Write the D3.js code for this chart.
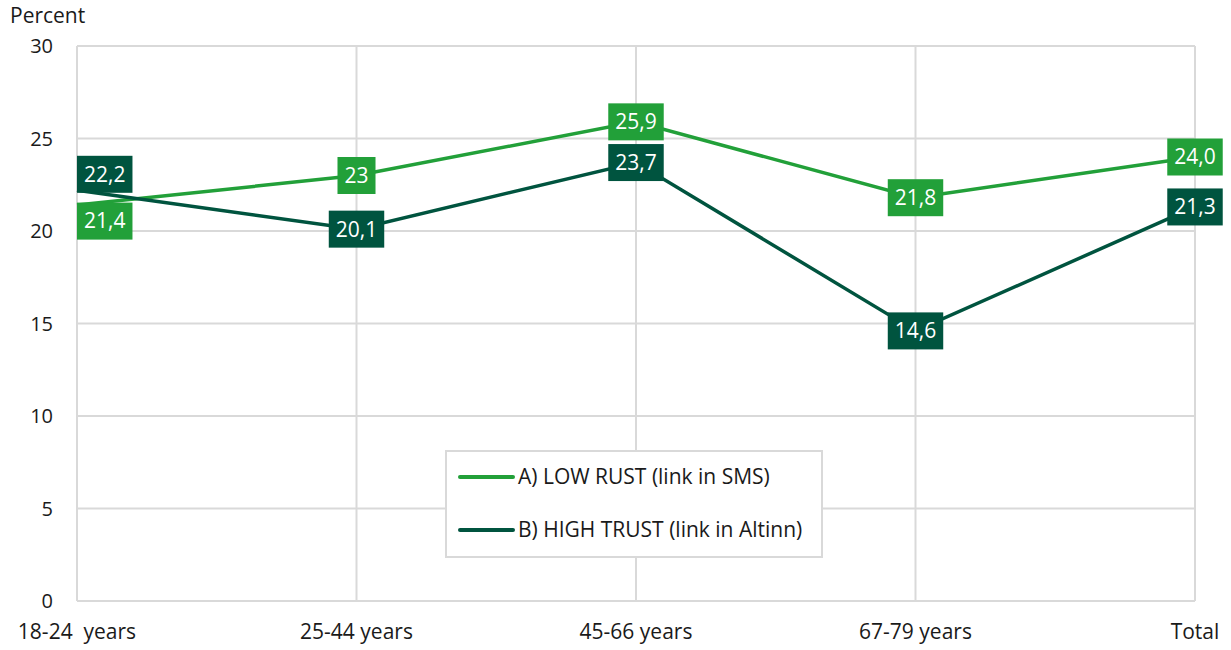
<!DOCTYPE html>
<html>
<head>
<meta charset="utf-8">
<script src="https://cdnjs.cloudflare.com/ajax/libs/d3/7.8.5/d3.min.js"></script>
<style>
	body{ margin:0; background:#fff; }
	svg text{ font-family:"Open Sans", sans-serif; fill:#1a1a1a; }
</style>
</head>
<body>
<svg id="chart" width="1231" height="650"></svg>
<script>
	// data
	var categories = ["18-24  years", "25-44 years", "45-66 years", "67-79 years", "Total"];
	var lowTrust = [21.4, 23, 25.9, 21.8, 24.0];
	var lowTrustLabels = ["21,4", "23", "25,9", "21,8", "24,0"];
	var highTrust = [22.2, 20.1, 23.7, 14.6, 21.3];
	var highTrustLabels = ["22,2", "20,1", "23,7", "14,6", "21,3"];
	var yTicks = [0, 5, 10, 15, 20, 25, 30];
	var seriesNames = ["A) LOW RUST (link in SMS)", "B) HIGH TRUST (link in Altinn)"];

	var GREEN = "#22a039", DARK = "#00543f", GRID = "#d9d9d9";
	var plotLeft = 77, plotRight = 1195, plotTop = 46, plotBottom = 601;

	var svg = d3.select("#chart");
	var x = d3.scalePoint().domain(categories).range([plotLeft, plotRight]).padding(0);
	var y = d3.scaleLinear().domain([0, 30]).range([plotBottom, plotTop]);

	var series = [
		{name: seriesNames[0], values: lowTrust, labels: lowTrustLabels, color: GREEN},
		{name: seriesNames[1], values: highTrust, labels: highTrustLabels, color: DARK}
	];

	// grid
	svg.append("g").selectAll("line").data(yTicks).enter().append("line")
		.attr("x1", plotLeft).attr("x2", plotRight)
		.attr("y1", function(d){ return y(d); }).attr("y2", function(d){ return y(d); })
		.attr("stroke", GRID).attr("stroke-width", 2);
	svg.append("g").selectAll("line").data(categories).enter().append("line")
		.attr("x1", function(d){ return x(d); }).attr("x2", function(d){ return x(d); })
		.attr("y1", plotTop).attr("y2", plotBottom)
		.attr("stroke", GRID).attr("stroke-width", 2);

	// axes labels
	svg.append("g").selectAll("text").data(yTicks).enter().append("text")
		.attr("x", 53).attr("y", function(d){ return y(d); })
		.attr("dy", "0.35em").attr("text-anchor", "end")
		.style("font-size", "20px").text(function(d){ return d; });
	svg.append("g").selectAll("text").data(categories).enter().append("text")
		.attr("x", function(d){ return x(d); }).attr("y", 632)
		.attr("dy", "0.35em").attr("text-anchor", "middle")
		.style("font-size", "21px").style("white-space", "pre")
		.text(function(d){ return d; });
	svg.append("text").attr("x", 10).attr("y", 16).attr("dy", "0.35em")
		.style("font-size", "21px").text("Percent");

	// lines + labels
	var line = d3.line()
		.x(function(d, i){ return x(categories[i]); })
		.y(function(d){ return y(d); });

	series.forEach(function(s, si){
		svg.append("path").datum(s.values)
			.attr("d", line).attr("fill", "none")
			.attr("stroke", s.color).attr("stroke-width", 3.5);

		var g = svg.append("g");
		s.values.forEach(function(v, i){
			var other = series[1 - si].values[i];
			var cx = x(categories[i]), cy = y(v);
			var lab = g.append("g");
			var t = lab.append("text").attr("text-anchor", "middle").attr("dy", "0.35em")
				.style("font-size", "21px").style("fill", "#fff").text(s.labels[i]);
			var w = t.node().getComputedTextLength() + 14, h = 37;
			if(i === 0){
				// first point: box to the right, pushed apart vertically
				cx = cx + w / 2;
				cy = cy + (v > other ? -16 : 16);
			}
			lab.insert("rect", "text")
				.attr("x", cx - w / 2).attr("y", cy - h / 2)
				.attr("width", w).attr("height", h)
				.attr("fill", s.color);
			t.attr("x", cx).attr("y", cy);
		});
	});

	// legend
	var lg = svg.append("g");
	lg.append("rect").attr("x", 446).attr("y", 451).attr("width", 376).attr("height", 106)
		.attr("fill", "#fff").attr("stroke", GRID).attr("stroke-width", 2);
	series.forEach(function(s, i){
		var ly = 477 + i * 53;
		lg.append("line").attr("x1", 460).attr("x2", 513).attr("y1", ly).attr("y2", ly)
			.attr("stroke", s.color).attr("stroke-width", 4).attr("stroke-linecap", "round");
		lg.append("text").attr("x", 518).attr("y", ly).attr("dy", "0.35em")
			.style("font-size", "21px").text(s.name);
	});
</script>
</body>
</html>
